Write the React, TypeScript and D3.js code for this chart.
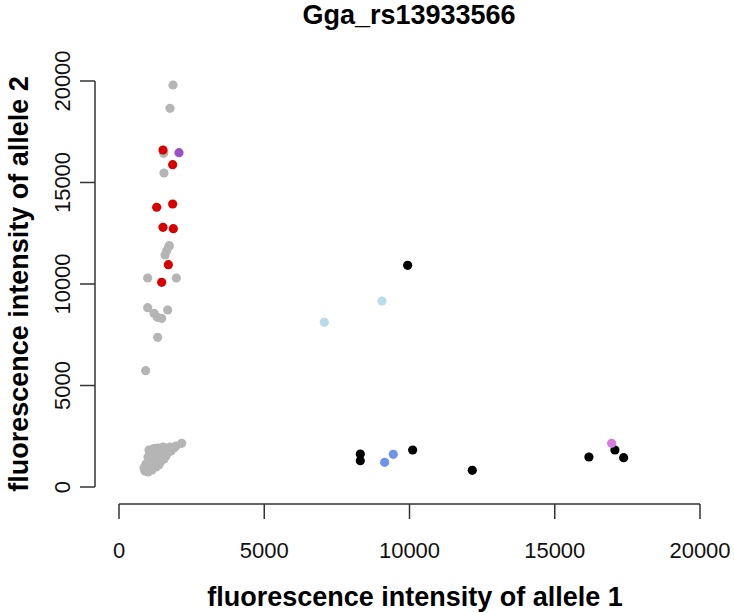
import React from "react";
import * as d3 from "d3";

const TITLE = "Gga_rs13933566";
const X_LABEL = "fluorescence intensity of allele 1";
const Y_LABEL = "fluorescence intensity of allele 2";
const X_TICKS = [0, 5000, 10000, 15000, 20000];
const Y_TICKS = [0, 5000, 10000, 15000, 20000];

// gray (no call)
const grayX = [1859, 1756, 1538, 1549, 1733, 1710, 1642, 1584, 987, 1974, 987, 1205, 1320, 1469, 1676, 1331, 918,
  895, 964, 929, 1033, 1067, 1136, 998, 1170, 1101, 1239, 1274, 1205, 1308, 1377, 1411, 1342, 1480, 1514, 1583, 1446,
  1274, 1136, 1033, 1170, 1342, 1514, 1652, 1755, 1687, 1618, 1790, 1893, 1962, 2158, 1067, 998, 861, 1550, 1380, 1240];
const grayY = [19803, 18655, 16438, 15468, 11888, 11839, 11642, 11429, 10296, 10296, 8833, 8555, 8358, 8309, 8719, 7373, 5731,
  788, 936, 1133, 1281, 1034, 837, 739, 1133, 1429, 1281, 985, 1576, 1478, 1724, 1429, 1232, 1576, 1823, 1724, 1281,
  1773, 1724, 1823, 1872, 1921, 1970, 1921, 1970, 1724, 1527, 1773, 1921, 2020, 2153, 1675, 1478, 936, 1380, 1100, 1900];

// red
const redX = [1515, 1847, 1297, 1847, 1515, 1871, 1699, 1469];
const redY = [16601, 15878, 13780, 13941, 12791, 12726, 10951, 10084];

// dark orchid
const purpleX = [2065];
const purpleY = [16470];

// black
const blackX = [9937, 8306, 8306, 10108, 12161, 16177, 17072, 17371];
const blackY = [10921, 1626, 1296, 1823, 822, 1478, 1823, 1445];

// light blue
const lightBlueX = [9053, 7067];
const lightBlueY = [9162, 8113];

// cornflower blue
const blueX = [9145, 9442];
const blueY = [1215, 1609];

// orchid
const orchidX = [16958];
const orchidY = [2152];

const groups = [
  { xs: grayX, ys: grayY, color: "#b5b5b5" },
  { xs: redX, ys: redY, color: "#d80000" },
  { xs: purpleX, ys: purpleY, color: "#9b4fc9" },
  { xs: blackX, ys: blackY, color: "#000000" },
  { xs: lightBlueX, ys: lightBlueY, color: "#b9dcea" },
  { xs: blueX, ys: blueY, color: "#6f93e8" },
  { xs: orchidX, ys: orchidY, color: "#d67ce0" },
];

const W = 734;
const H = 613;
const FONT = "'Liberation Sans', Arial, Helvetica, sans-serif";

export default function App() {
  const x = d3.scaleLinear().domain([0, 20000]).range([119, 700]);
  const y = d3.scaleLinear().domain([0, 20000]).range([487, 81]);
  const xAxisY = 504;
  const yAxisX = 95;
  const tick = 15;

  return (
    <svg width={W} height={H} style={{ position: "absolute", left: 0, top: 0, background: "#fff" }}>
      <rect width={W} height={H} fill="#fff" />
      <text x={409} y={24} textAnchor="middle" fontFamily={FONT} fontWeight="bold" fontSize={27}>
        {TITLE}
      </text>
      {groups.map((g, gi) =>
        g.xs.map((v, i) => (
          <circle key={`${gi}-${i}`} cx={x(v)} cy={y(g.ys[i])} r={4.6} fill={g.color} />
        ))
      )}
      {/* x axis */}
      <g stroke="#333" strokeWidth={1.5} fill="none">
        <line x1={x(X_TICKS[0])} x2={x(X_TICKS[X_TICKS.length - 1])} y1={xAxisY} y2={xAxisY} />
        {X_TICKS.map((t) => (
          <line key={t} x1={x(t)} x2={x(t)} y1={xAxisY} y2={xAxisY + tick} />
        ))}
        <line x1={yAxisX} x2={yAxisX} y1={y(Y_TICKS[0])} y2={y(Y_TICKS[Y_TICKS.length - 1])} />
        {Y_TICKS.map((t) => (
          <line key={t} x1={yAxisX - tick} x2={yAxisX} y1={y(t)} y2={y(t)} />
        ))}
      </g>
      {X_TICKS.map((t) => (
        <text key={t} x={x(t)} y={558} textAnchor="middle" fontFamily={FONT} fontSize={22} fill="#111">
          {t}
        </text>
      ))}
      {Y_TICKS.map((t) => (
        <text
          key={t}
          transform={`translate(${70},${y(t)}) rotate(-90)`}
          textAnchor="middle"
          fontFamily={FONT}
          fontSize={22}
          fill="#111"
        >
          {t}
        </text>
      ))}
      <text x={415} y={606} textAnchor="middle" fontFamily={FONT} fontWeight="bold" fontSize={27}>
        {X_LABEL}
      </text>
      <text
        transform={`translate(${28},${y(10000)}) rotate(-90)`}
        textAnchor="middle"
        fontFamily={FONT}
        fontWeight="bold"
        fontSize={27}
      >
        {Y_LABEL}
      </text>
    </svg>
  );
}
